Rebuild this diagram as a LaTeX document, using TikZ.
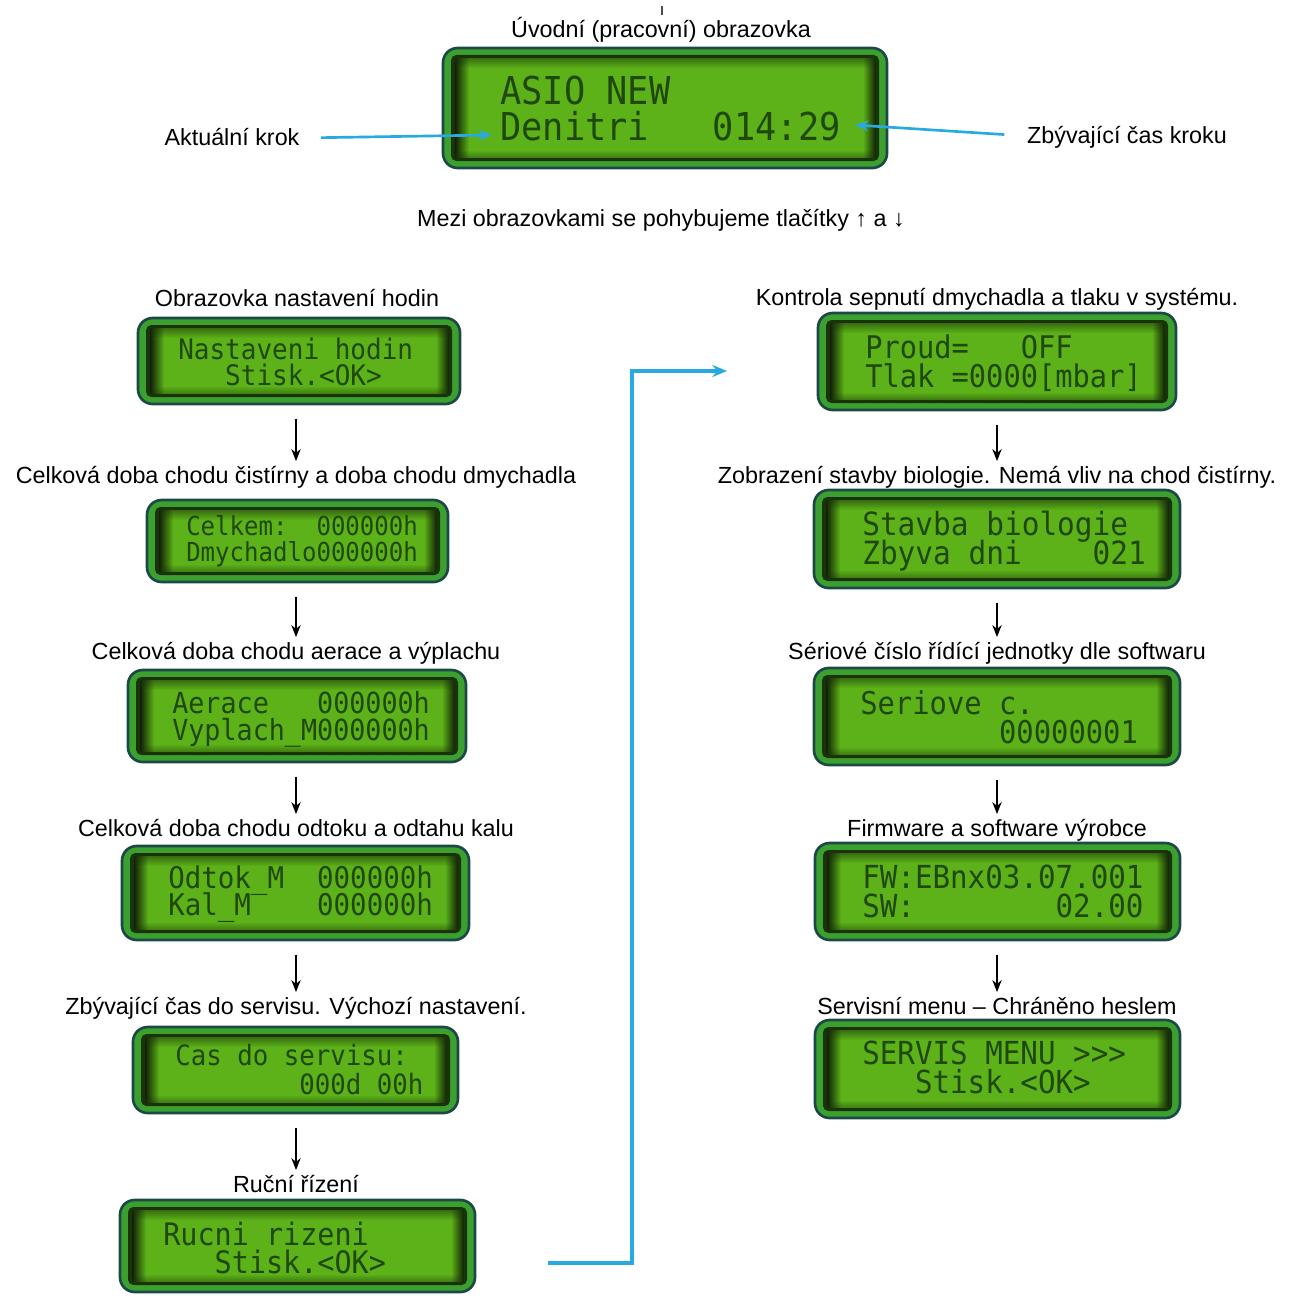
\documentclass[tikz,border=0pt]{standalone}
\usepackage{fontspec}
\setmainfont{Liberation Sans}
\newfontfamily\lcdfont[FakeStretch=0.92]{DejaVu Sans Mono}
\usetikzlibrary{fit,arrows.meta,fadings}
\tikzfading[name=fadeR, left color=transparent!0, right color=transparent!100]
\tikzfading[name=fadeL, left color=transparent!100, right color=transparent!0]
\tikzfading[name=fadeD, top color=transparent!0, bottom color=transparent!100]
\tikzfading[name=fadeU, top color=transparent!100, bottom color=transparent!0]
\definecolor{frameG}{HTML}{3CA02E}
\definecolor{frameB}{HTML}{1C4848}
\definecolor{panelD}{HTML}{1A330C}
\definecolor{screenG}{HTML}{5CB218}
\definecolor{lcdtxt}{HTML}{1F480A}
\definecolor{blueC}{HTML}{29A9E1}
\tikzset{
  lcdframe/.style={rectangle, rounded corners=11pt, fill=frameG, draw=frameB, line width=2pt, inner sep=0pt, outer sep=0pt},
  lcdtext/.style={anchor=west, inner sep=0pt, text=lcdtxt, text depth=0pt},
  title/.style={inner sep=0pt, text height=11pt, text depth=0pt, font=\fontsize{17.5}{20}\selectfont},
  downarr/.style={-{Stealth[length=9pt,width=7pt]}, line width=1.1pt, black, shorten <=11pt, shorten >=5.5pt},
  bluearr/.style={-{Stealth[length=10pt,width=8pt]}, line width=2pt, blueC},
  blueconn/.style={-{Stealth[length=11pt,width=9pt]}, line width=3pt, blueC},
}
\newcommand\LCD[5]{%
  \node[lcdframe, fit={(#2,#3) (#4,#5)}] (#1) {};
  \fill[panelD, rounded corners=4pt] ([shift={(8,7)}]#1.north west) rectangle ([shift={(-8,-7)}]#1.south east);
  \fill[screenG] ([shift={(12,10)}]#1.north west) rectangle ([shift={(-11,-10)}]#1.south east);
  \fill[panelD!60!black, path fading=fadeR] ([shift={(12,10)}]#1.north west) rectangle ([shift={(26,-10)}]#1.south west);
  \fill[panelD!60!black, path fading=fadeL] ([shift={(-24,10)}]#1.north east) rectangle ([shift={(-11,-10)}]#1.south east);
  \fill[panelD, path fading=fadeD, opacity=.55] ([shift={(12,10)}]#1.north west) rectangle ([shift={(-11,20)}]#1.north east);
  \fill[panelD, path fading=fadeU, opacity=.45] ([shift={(12,-10)}]#1.south west) rectangle ([shift={(-11,-18)}]#1.south east);
}
\newcommand\LT[5]{\node[lcdtext, text height={#4*0.73pt}, font=\lcdfont\fontsize{#4}{#4}\selectfont] (#1) at (#2,#3) {#5};}
\begin{document}
\begin{tikzpicture}[x=0.75pt, y=-0.75pt]
\useasboundingbox (0,0) rectangle (1298,1295);
\fill[white] (0,0) rectangle (1298,1295);
\draw[black!70, line width=1.2pt] (662,6) -- (662,15);

% top screen
\node[title] (t0) at (661,30) {Úvodní (pracovní) obrazovka};
\LCD{lcd0}{443}{48}{887}{168}
\LT{l0a}{500}{90}{28.8}{ASIO~NEW}
\LT{l0b}{500}{126}{28.8}{Denitri~~~014:29}
\node[title] (ta) at (232,138) {Aktuální krok};
\node[title] (tz) at (1127,136) {Zbývající čas kroku};
\coordinate (krok) at (492,135);
\coordinate (cas) at (855,125);
\draw[bluearr, shorten <=16pt] (ta.east) -- (krok);
\draw[bluearr, shorten <=17pt] (tz.west) -- (cas);
\node[title] (tm) at (661,219) {Mezi obrazovkami se pohybujeme tlačítky ↑ a ↓};

% left column
\node[title] (L1) at (297,299) {Obrazovka nastavení hodin};
\LCD{A1}{138}{318}{460}{404}
\LT{a1a}{178}{349}{21.2}{Nastaveni~hodin}
\LT{a1b}{178}{375}{21.2}{~~~Stisk.<OK>}

\node[title] (L2) at (296,476) {Celková doba chodu čistírny a doba chodu dmychadla};
\LCD{A2}{147}{500}{448}{582}
\LT{a2a}{186}{526}{19.6}{Celkem:~~000000h}
\LT{a2b}{186}{552}{19.6}{Dmychadlo000000h}

\node[title] (L3) at (296,652) {Celková doba chodu aerace a výplachu};
\LCD{A3}{128}{670}{466}{762}
\LT{a3a}{172}{703}{21.8}{Aerace~~~000000h}
\LT{a3b}{172}{730}{21.8}{Vyplach\_M000000h}

\node[title] (L4) at (296,829) {Celková doba chodu odtoku a odtahu kalu};
\LCD{A4}{122}{846}{469}{940}
\LT{a4a}{168}{878}{22.4}{Odtok\_M~~000000h}
\LT{a4b}{168}{905}{22.4}{Kal\_M~~~~000000h}

\node[title] (L5) at (296,1007) {Zbývající čas do servisu. Výchozí nastavení.};
\LCD{A5}{133}{1027}{458}{1113}
\LT{a5a}{175}{1055}{21.0}{Cas~do~servisu:}
\LT{a5b}{175}{1084}{21.0}{~~~~~~~~000d~00h}

\node[title] (L6) at (296,1185) {Ruční řízení};
\LCD{A6}{120}{1200}{475}{1292}
\LT{a6a}{163}{1234}{23.2}{Rucni~rizeni}
\LT{a6b}{163}{1262}{23.2}{~~~Stisk.<OK>}

% right column
\node[title] (R1) at (997,298) {Kontrola sepnutí dmychadla a tlaku v systému.};
\LCD{B1}{818}{313}{1176}{410}
\LT{b1a}{865}{347}{23.4}{Proud=~~~OFF}
\LT{b1b}{865}{376}{23.4}{Tlak~=0000[mbar]}

\node[title] (R2) at (997,476) {Zobrazení stavby biologie. Nemá vliv na chod čistírny.};
\LCD{B2}{814}{490}{1180}{588}
\LT{b2a}{862}{524}{24.0}{Stavba~biologie}
\LT{b2b}{862}{553}{24.0}{Zbyva~dni~~~~021}

\node[title] (R3) at (997,652) {Sériové číslo řídící jednotky dle softwaru};
\LCD{B3}{814}{668}{1180}{765}
\LT{b3a}{860}{703}{23.5}{Seriove~c.}
\LT{b3b}{860}{732}{23.5}{~~~~~~~~00000001}

\node[title] (R4) at (997,829) {Firmware a software výrobce};
\LCD{B4}{815}{843}{1180}{940}
\LT{b4a}{862}{877}{23.8}{FW:EBnx03.07.001}
\LT{b4b}{862}{906}{23.8}{SW:~~~~~~~~02.00}

\node[title] (R5) at (997,1007) {Servisní menu – Chráněno heslem};
\LCD{B5}{815}{1020}{1180}{1118}
\LT{b5a}{862}{1053}{23.8}{SERVIS~MENU~>>>}
\LT{b5b}{862}{1082}{23.8}{~~~Stisk.<OK>}

% down arrows
\draw[downarr] (A1.south -| L2.north) -- (L2.north);
\draw[downarr] (A2.south -| L3.north) -- (L3.north);
\draw[downarr] (A3.south -| L4.north) -- (L4.north);
\draw[downarr] (A4.south -| L5.north) -- (L5.north);
\draw[downarr] (A5.south -| L6.north) -- (L6.north);
\draw[downarr] (B1.south -| R2.north) -- (R2.north);
\draw[downarr] (B2.south -| R3.north) -- (R3.north);
\draw[downarr] (B3.south -| R4.north) -- (R4.north);
\draw[downarr] (B4.south -| R5.north) -- (R5.north);

% blue connector
\coordinate (bc1) at (548,1263);
\coordinate (bc2) at (727,371);
\draw[blueconn] (bc1) -- (632,1263) |- (bc2);
\end{tikzpicture}
\end{document}
